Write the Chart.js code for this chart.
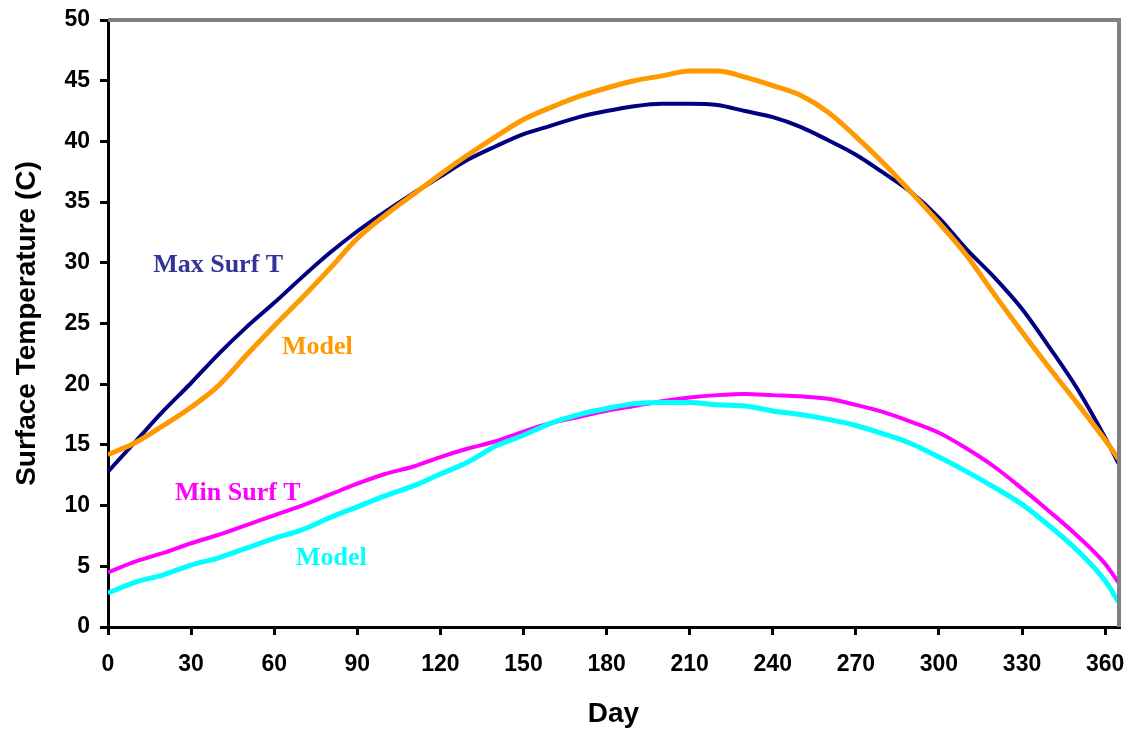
<!DOCTYPE html>
<html>
<head>
<meta charset="utf-8">
<script src="https://cdn.jsdelivr.net/npm/chart.js@4.4.0/dist/chart.umd.min.js"></script>
<style>
  html, body { margin: 0; padding: 0; background: #fff; }
  #wrap { width: 1129px; height: 731px; }
</style>
</head>
<body>
<div id="wrap"><canvas id="chart"></canvas></div>
<script>
// dias (cada 10 dias + ultimo)
const days = [0, 10, 20, 30, 40, 50, 60, 70, 80, 90, 100, 110, 120, 130, 140, 150, 160, 170, 180,
    190, 200, 210, 220, 230, 240, 250, 260, 270, 280, 290, 300, 310, 320, 330, 340, 350, 360, 365];

// temperatura maxima superficie (observada)
const maxSurf = [12.8, 15.3, 17.8, 20.1, 22.5, 24.7, 26.7, 28.8, 30.8, 32.6, 34.2, 35.7, 37.1, 38.5,
    39.6, 40.6, 41.3, 42.0, 42.5, 42.9, 43.1, 43.1, 43.0, 42.5, 42.0, 41.2, 40.1, 38.9, 37.4, 35.8,
    33.7, 31.1, 28.8, 26.2, 23.0, 19.6, 15.6, 13.4];

// modelo maxima
const maxModel = [14.2, 15.2, 16.6, 18.1, 19.9, 22.4, 24.8, 27.1, 29.5, 32.0, 33.9, 35.6, 37.3, 38.9,
    40.4, 41.8, 42.8, 43.7, 44.4, 45.0, 45.4, 45.8, 45.8, 45.3, 44.6, 43.8, 42.4, 40.4, 38.2, 35.8,
    33.3, 30.6, 27.4, 24.3, 21.3, 18.4, 15.4, 13.8];

// temperatura minima superficie (observada)
const minSurf = [4.5, 5.4, 6.1, 6.9, 7.6, 8.4, 9.2, 10.0, 10.9, 11.8, 12.6, 13.2, 14.0, 14.7, 15.3,
    16.1, 16.8, 17.3, 17.8, 18.2, 18.6, 18.9, 19.1, 19.2, 19.1, 19.0, 18.8, 18.3, 17.7, 16.9, 16.0,
    14.7, 13.2, 11.4, 9.5, 7.5, 5.2, 3.6];

// modelo minima
const minModel = [2.8, 3.7, 4.3, 5.1, 5.7, 6.5, 7.3, 8.0, 9.0, 9.9, 10.8, 11.6, 12.6, 13.6, 14.9,
    15.8, 16.8, 17.5, 18.0, 18.4, 18.5, 18.5, 18.3, 18.2, 17.8, 17.5, 17.1, 16.6, 15.9, 15.1, 14.0,
    12.8, 11.5, 10.1, 8.3, 6.3, 3.8, 2.0];

// etiquetas dentro del grafico: [texto, dia, valor, color]
const labels = [
    ['Max Surf T', 16.3, 29.8, '#333399'],
    ['Model', 62.8, 23.0, '#FF9900'],
    ['Min Surf T', 24.2, 11.0, '#FF00FF'],
    ['Model', 67.9, 5.7, '#00FFFF']
];

function pts(ys) {
    return days.map(function (d, i) { return { x: d, y: ys[i] }; });
}

function serie(nombre, ys, color, ancho) {
    return {
        label: nombre,
        data: pts(ys),
        borderColor: color,
        backgroundColor: color,
        borderWidth: ancho,
        pointRadius: 0,
        fill: false,
        cubicInterpolationMode: 'monotone'
    };
}

// marco gris arriba y derecha + textos
const extras = {
    id: 'extras',
    afterDatasetsDraw(chart) {
        const c = chart.ctx, a = chart.chartArea;
        c.save();
        c.strokeStyle = '#808080';
        c.lineWidth = 4;
        c.beginPath();
        c.moveTo(a.left, a.top);
        c.lineTo(a.right, a.top);
        c.lineTo(a.right, a.bottom);
        c.stroke();

        c.font = 'bold 26px "Liberation Serif", "Times New Roman", serif';
        c.textBaseline = 'middle';
        c.textAlign = 'left';
        labels.forEach(function (l) {
            c.fillStyle = l[3];
            c.fillText(l[0], chart.scales.x.getPixelForValue(l[1]), chart.scales.y.getPixelForValue(l[2]));
        });
        c.restore();
    }
};

const fuente = '"Liberation Sans", Arial, sans-serif';

new Chart(document.getElementById('chart'), {
    type: 'line',
    data: {
        datasets: [
            serie('Model max', maxModel, '#FF9900', 5),
            serie('Max Surf T', maxSurf, '#000080', 4),
            serie('Model min', minModel, '#00FFFF', 5),
            serie('Min Surf T', minSurf, '#FF00FF', 4)
        ]
    },
    options: {
        responsive: true,
        maintainAspectRatio: false,
        animation: false,
        layout: { padding: { top: 20, right: 10, left: 0, bottom: 0 } },
        plugins: { legend: { display: false }, tooltip: { enabled: false } },
        scales: {
            x: {
                type: 'linear',
                min: 0,
                max: 365,
                afterFit: function (s) { s.height = 104; s.paddingLeft = 0; s.paddingRight = 0; },
                border: { color: '#000', width: 3 },
                grid: { drawOnChartArea: false, drawTicks: true, tickLength: 8, color: '#000', lineWidth: 3 },
                ticks: {
                    stepSize: 30,
                    includeBounds: false,
                    color: '#000',
                    padding: 16,
                    maxRotation: 0,
                    font: { family: fuente, size: 23, weight: 'bold' }
                },
                title: {
                    display: true,
                    text: 'Day',
                    color: '#000',
                    padding: { top: 0, bottom: 0 },
                    font: { family: fuente, size: 28, weight: 'bold' }
                }
            },
            y: {
                min: 0,
                max: 50,
                afterFit: function (s) { s.width = 108; s.paddingTop = 0; s.paddingBottom = 0; },
                border: { color: '#000', width: 3 },
                grid: { drawOnChartArea: false, drawTicks: true, tickLength: 8, color: '#000', lineWidth: 3 },
                ticks: {
                    stepSize: 5,
                    color: '#000',
                    padding: 10,
                    font: { family: fuente, size: 23, weight: 'bold' }
                },
                title: {
                    display: true,
                    text: 'Surface Temperature (C)',
                    color: '#000',
                    padding: { top: 10, bottom: 0 },
                    font: { family: fuente, size: 28, weight: 'bold' }
                }
            }
        }
    },
    plugins: [extras]
});
</script>
</body>
</html>
